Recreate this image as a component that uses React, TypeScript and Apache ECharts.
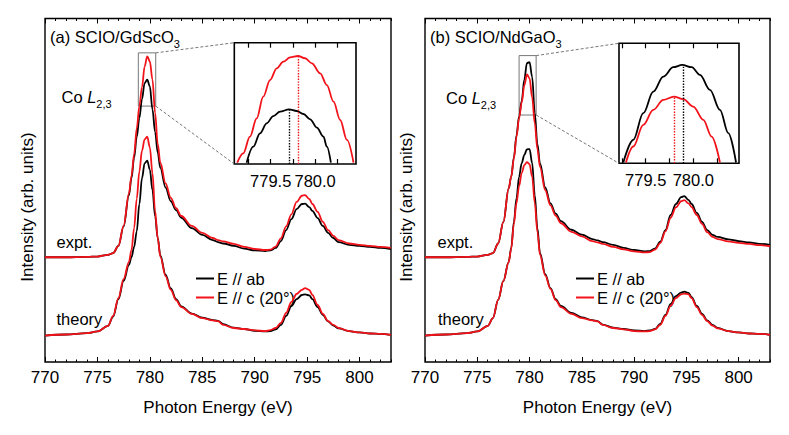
import React, { useEffect, useRef } from "react";
import * as echarts from "echarts";

const FONT = "Liberation Sans, Arial, Helvetica, sans-serif";

// Photon energy grid (eV) shared by the main spectra
const energy = [770, 772, 774, 775, 776, 776.5, 777, 777.5, 778, 778.25, 778.5, 778.75, 779, 779.25, 779.5, 779.75, 780, 780.25, 780.5, 780.75, 781, 781.5, 782, 782.5, 783, 784, 785, 786, 786.5, 787, 788, 789, 790, 791, 791.5, 792, 792.5, 793, 793.5, 794, 794.5, 794.8, 795.2, 795.5, 796, 796.5, 797, 797.5, 798, 799, 800, 801, 802, 803];

// Panel (a) SCIO/GdScO3
const exptAbA = [3.05, 3.05, 3.06, 3.07, 3.12, 3.17, 3.38, 3.95, 4.85, 5.35, 5.95, 6.55, 7.1, 7.65, 8.12, 8.22, 8.02, 7.35, 6.7, 6.1, 5.65, 5.08, 4.68, 4.42, 4.2, 3.9, 3.7, 3.55, 3.49, 3.45, 3.38, 3.3, 3.25, 3.23, 3.25, 3.32, 3.52, 3.84, 4.16, 4.45, 4.6, 4.61, 4.51, 4.4, 4.19, 3.96, 3.76, 3.61, 3.49, 3.41, 3.38, 3.35, 3.32, 3.29];
const exptCA = [3.05, 3.05, 3.06, 3.07, 3.12, 3.17, 3.38, 3.97, 4.9, 5.42, 6.05, 6.8, 7.45, 8.0, 8.6, 8.9, 8.75, 8.22, 7.25, 6.35, 5.8, 5.2, 4.78, 4.48, 4.25, 3.96, 3.76, 3.61, 3.55, 3.51, 3.44, 3.35, 3.29, 3.26, 3.27, 3.36, 3.6, 3.95, 4.3, 4.66, 4.84, 4.86, 4.75, 4.6, 4.37, 4.08, 3.84, 3.67, 3.55, 3.45, 3.41, 3.38, 3.35, 3.32];
const theoAbA = [0.77, 0.8, 0.84, 0.89, 1.05, 1.32, 1.83, 2.36, 2.82, 3.05, 3.35, 3.8, 4.6, 5.35, 5.78, 5.86, 5.6, 5.0, 4.25, 3.62, 3.1, 2.54, 2.14, 1.83, 1.62, 1.41, 1.29, 1.22, 1.2, 1.1, 1.0, 0.96, 0.91, 0.89, 0.9, 0.95, 1.08, 1.34, 1.63, 1.83, 1.95, 1.97, 1.94, 1.83, 1.6, 1.37, 1.18, 1.06, 0.98, 0.9, 0.86, 0.83, 0.82, 0.79];
const theoCA = [0.77, 0.8, 0.84, 0.89, 1.05, 1.34, 1.86, 2.42, 2.91, 3.26, 3.9, 4.75, 5.55, 6.15, 6.48, 6.56, 6.25, 5.5, 4.4, 3.6, 3.07, 2.5, 2.1, 1.8, 1.6, 1.4, 1.28, 1.21, 1.19, 1.08, 0.99, 0.96, 0.92, 0.9, 0.93, 0.99, 1.14, 1.43, 1.75, 1.98, 2.1, 2.15, 2.1, 1.95, 1.66, 1.4, 1.19, 1.08, 0.99, 0.9, 0.86, 0.83, 0.82, 0.79];

// Panel (b) SCIO/NdGaO3
const exptAbB = [3.05, 3.05, 3.06, 3.07, 3.12, 3.17, 3.45, 4.08, 5.05, 5.4, 5.95, 6.6, 7.15, 7.6, 8.22, 8.7, 8.73, 8.3, 7.25, 6.35, 5.78, 5.08, 4.62, 4.32, 4.1, 3.85, 3.71, 3.58, 3.54, 3.49, 3.41, 3.32, 3.26, 3.22, 3.23, 3.3, 3.5, 3.84, 4.28, 4.6, 4.8, 4.83, 4.72, 4.6, 4.34, 4.08, 3.84, 3.7, 3.64, 3.57, 3.52, 3.48, 3.44, 3.41];
const exptCB = [3.05, 3.05, 3.06, 3.07, 3.12, 3.17, 3.45, 4.08, 5.05, 5.4, 5.92, 6.55, 7.1, 7.55, 8.05, 8.37, 8.26, 7.7, 6.95, 6.2, 5.68, 5.0, 4.56, 4.26, 4.04, 3.79, 3.66, 3.52, 3.48, 3.44, 3.35, 3.28, 3.22, 3.19, 3.2, 3.27, 3.46, 3.8, 4.2, 4.5, 4.68, 4.71, 4.62, 4.51, 4.28, 4.02, 3.78, 3.64, 3.58, 3.51, 3.47, 3.44, 3.4, 3.37];
const theoAbB = [0.77, 0.8, 0.84, 0.89, 1.05, 1.28, 1.81, 2.36, 2.91, 3.32, 4.08, 4.77, 5.39, 5.79, 6.03, 6.19, 6.2, 5.79, 4.86, 3.9, 3.17, 2.56, 2.15, 1.83, 1.63, 1.43, 1.3, 1.22, 1.19, 1.09, 1.0, 0.96, 0.92, 0.9, 0.92, 0.96, 1.11, 1.37, 1.69, 1.92, 2.02, 2.05, 2.01, 1.89, 1.63, 1.4, 1.21, 1.08, 0.99, 0.9, 0.86, 0.83, 0.82, 0.79];
const theoCB = [0.77, 0.8, 0.84, 0.89, 1.05, 1.28, 1.81, 2.36, 2.9, 3.3, 4.02, 4.63, 5.12, 5.5, 5.73, 5.82, 5.76, 5.39, 4.63, 3.78, 3.12, 2.52, 2.13, 1.8, 1.6, 1.4, 1.28, 1.21, 1.18, 1.08, 0.99, 0.95, 0.9, 0.89, 0.9, 0.95, 1.08, 1.34, 1.64, 1.86, 1.97, 1.99, 1.97, 1.86, 1.6, 1.37, 1.19, 1.06, 0.98, 0.9, 0.86, 0.83, 0.82, 0.79];

// Insets: zoom on the L3 peak maximum
const insetEnergyAbA = [779.229, 779.304, 779.379, 779.455, 779.529, 779.605, 779.707, 779.793, 779.868, 779.944, 780.019, 780.094, 780.132, 780.177];
const insetAbA = [7.547, 7.751, 7.922, 8.05, 8.143, 8.198, 8.229, 8.207, 8.169, 8.101, 7.996, 7.879, 7.751, 7.547];
const insetEnergyCA = [779.123, 779.191, 779.266, 779.342, 779.416, 779.492, 779.568, 779.642, 779.718, 779.808, 779.887, 779.963, 780.056, 780.132, 780.207, 780.282, 780.358, 780.432];
const insetCA = [7.547, 7.667, 7.879, 8.114, 8.39, 8.603, 8.753, 8.837, 8.893, 8.91, 8.881, 8.817, 8.689, 8.539, 8.326, 8.092, 7.837, 7.547];
const insetEnergyAbB = [779.265, 779.37, 779.475, 779.58, 779.685, 779.79, 779.884, 779.983, 780.07, 780.175, 780.28, 780.368, 780.449];
const insetAbB = [7.57, 7.85, 8.178, 8.444, 8.629, 8.745, 8.773, 8.745, 8.65, 8.465, 8.219, 7.932, 7.57];
const insetEnergyCB = [779.293, 779.37, 779.475, 779.58, 779.685, 779.797, 779.895, 780.0, 780.105, 780.193, 780.28];
const insetCB = [7.57, 7.767, 8.034, 8.219, 8.342, 8.383, 8.351, 8.26, 8.096, 7.89, 7.57];

// Peak positions marked in insets [energy, peak intensity]
const peakAbA = [779.71, 8.229];
const peakCA = [779.81, 8.91];
const peakAbB = [779.89, 8.773];
const peakCB = [779.8, 8.383];

// Ranges
const mainX = [770, 803];
const mainY = [0, 10];
const insetXA = [779.09, 780.46];
const insetYA = [7.53, 9.08];
const insetXB = [779.22, 780.48];
const insetYB = [7.56, 9.04];
const boxA = [[778.9, 7.45], [780.56, 9.0]];
const boxB = [[779.0, 7.19], [780.63, 8.92]];

const majorTicks = [770, 775, 780, 785, 790, 795, 800];
const minorTicks = Array.from({ length: 34 }, (_, i) => 770 + i);
const insetTicks = [779.25, 779.5, 779.75, 780.0, 780.25];
const insetLabels = [779.5, 780.0];

const BLACK = "#000000";
const RED = "#f2131a";
const NAME_AB = "E // ab";
const NAME_C = "E // c (20°)";

const zip = (xs: number[], ys: number[]) => xs.map((x, i) => [x, ys[i]]);

function mainXAxes(grid: number) {
  const base = {
    gridIndex: grid,
    type: "value" as const,
    min: mainX[0],
    max: mainX[1],
    axisLine: { show: false },
    splitLine: { show: false },
  };
  return [
    {
      ...base,
      position: "bottom",
      axisTick: { customValues: majorTicks, inside: true, length: 5, lineStyle: { color: "#000", width: 1 } },
      axisLabel: { customValues: majorTicks, fontSize: 17, color: "#000", margin: 7, fontFamily: FONT },
      name: "Photon Energy (eV)",
      nameLocation: "middle",
      nameGap: 37,
      nameTextStyle: { fontSize: 17, color: "#000", fontFamily: FONT },
    },
    {
      ...base,
      position: "bottom",
      axisTick: { customValues: minorTicks, inside: true, length: 2.5, lineStyle: { color: "#000", width: 1 } },
      axisLabel: { show: false },
    },
    {
      ...base,
      position: "top",
      axisTick: { customValues: majorTicks, inside: true, length: 5, lineStyle: { color: "#000", width: 1 } },
      axisLabel: { show: false },
    },
    {
      ...base,
      position: "top",
      axisTick: { customValues: minorTicks, inside: true, length: 2.5, lineStyle: { color: "#000", width: 1 } },
      axisLabel: { show: false },
    },
  ];
}

function insetXAxes(grid: number, range: number[]) {
  const base = {
    gridIndex: grid,
    type: "value" as const,
    min: range[0],
    max: range[1],
    axisLine: { show: false },
    splitLine: { show: false },
  };
  return [
    {
      ...base,
      position: "bottom",
      axisTick: { customValues: insetTicks, inside: true, length: 5, lineStyle: { color: "#000", width: 1.2 } },
      axisLabel: {
        customValues: insetLabels,
        fontSize: 16.5,
        color: "#000",
        margin: 8,
        fontFamily: FONT,
        formatter: (v: number) => v.toFixed(1),
      },
    },
    {
      ...base,
      position: "top",
      axisTick: { customValues: insetTicks, inside: true, length: 5, lineStyle: { color: "#000", width: 1.2 } },
      axisLabel: { show: false },
    },
  ];
}

function yAxis(grid: number, range: number[]) {
  return {
    gridIndex: grid,
    type: "value" as const,
    min: range[0],
    max: range[1],
    axisLine: { show: false },
    axisTick: { show: false },
    axisLabel: { show: false },
    splitLine: { show: false },
  };
}

function line(name: string, color: string, data: number[][], xi: number, yi: number, extra: any = {}) {
  return {
    type: "line",
    name,
    xAxisIndex: xi,
    yAxisIndex: yi,
    data,
    symbol: "none",
    smooth: 0.35,
    smoothMonotone: "x",
    color,
    lineStyle: { color, width: 1.8 },
    z: color === RED ? 4 : 3,
    ...extra,
  };
}

function peakLine(peak: number[], yMin: number, color: string) {
  return {
    silent: true,
    symbol: ["none", "none"],
    label: { show: false },
    lineStyle: { type: "dotted", color, width: 1.4 },
    data: [[{ coord: [peak[0], yMin] }, { coord: [peak[0], peak[1]] }]],
  };
}

function boxArea(box: number[][]) {
  return {
    silent: true,
    itemStyle: { color: "rgba(0,0,0,0)", borderColor: "#777", borderWidth: 1 },
    data: [[{ coord: box[0] }, { coord: box[1] }]],
  };
}

function legend(left: number) {
  return {
    left,
    top: 265,
    orient: "vertical",
    selectedMode: false,
    data: [NAME_AB, NAME_C],
    icon: "rect",
    itemWidth: 18,
    itemHeight: 2,
    itemGap: 2,
    textStyle: { fontSize: 16.5, color: "#000", fontFamily: FONT, padding: [0, 0, 0, -2] },
  };
}

function label(text: string, x: number, y: number, extra: any = {}) {
  return {
    type: "text",
    x,
    y,
    z: 10,
    style: {
      text,
      fill: "#000",
      fontSize: 16.5,
      fontFamily: FONT,
      align: "left",
      verticalAlign: "middle",
      lineHeight: 24,
      rich: {
        sub: { fontSize: 11, lineHeight: 11, verticalAlign: "bottom", fontFamily: FONT, fill: "#000" },
        it: { fontSize: 16.5, fontStyle: "italic", lineHeight: 24, fontFamily: FONT, fill: "#000" },
      },
      ...extra,
    },
  };
}

export default function App() {
  const ref = useRef<HTMLDivElement>(null);

  useEffect(() => {
    if (!ref.current) return;
    const chart = echarts.init(ref.current, null, { renderer: "svg" });

    const option: any = {
      animation: false,
      backgroundColor: "#ffffff",
      textStyle: { fontFamily: FONT },
      grid: [
        { left: 45, top: 18.5, width: 346, height: 343.5, show: true, borderColor: "#000", borderWidth: 1.4, backgroundColor: "transparent" },
        { left: 234.3, top: 42.7, width: 121.7, height: 121.3, show: true, borderColor: "#000", borderWidth: 1.6, backgroundColor: "#fff" },
        { left: 425, top: 18.5, width: 345, height: 343.5, show: true, borderColor: "#000", borderWidth: 1.4, backgroundColor: "transparent" },
        { left: 619, top: 43.3, width: 120, height: 120, show: true, borderColor: "#000", borderWidth: 1.6, backgroundColor: "#fff" },
      ],
      xAxis: [
        ...mainXAxes(0), // 0-3
        ...insetXAxes(1, insetXA), // 4-5
        ...mainXAxes(2), // 6-9
        ...insetXAxes(3, insetXB), // 10-11
      ],
      yAxis: [yAxis(0, mainY), yAxis(1, insetYA), yAxis(2, mainY), yAxis(3, insetYB)],
      legend: [legend(191), legend(571)],
      series: [
        // panel a main
        line(NAME_AB, BLACK, zip(energy, exptAbA), 0, 0, { markArea: boxArea(boxA) }),
        line(NAME_AB, BLACK, zip(energy, theoAbA), 0, 0),
        line(NAME_C, RED, zip(energy, exptCA), 0, 0),
        line(NAME_C, RED, zip(energy, theoCA), 0, 0),
        // panel a inset
        line(NAME_AB, BLACK, zip(insetEnergyAbA, insetAbA), 4, 1, { markLine: peakLine(peakAbA, insetYA[0], BLACK) }),
        line(NAME_C, RED, zip(insetEnergyCA, insetCA), 4, 1, { markLine: peakLine(peakCA, insetYA[0], RED) }),
        // panel b main
        line(NAME_AB, BLACK, zip(energy, exptAbB), 6, 2, { markArea: boxArea(boxB) }),
        line(NAME_AB, BLACK, zip(energy, theoAbB), 6, 2),
        line(NAME_C, RED, zip(energy, exptCB), 6, 2),
        line(NAME_C, RED, zip(energy, theoCB), 6, 2),
        // panel b inset
        line(NAME_AB, BLACK, zip(insetEnergyAbB, insetAbB), 10, 3, { markLine: peakLine(peakAbB, insetYB[0], BLACK) }),
        line(NAME_C, RED, zip(insetEnergyCB, insetCB), 10, 3, { markLine: peakLine(peakCB, insetYB[0], RED) }),
      ],
    };
    chart.setOption(option);

    const px = (xi: number, yi: number, pt: number[]) =>
      chart.convertToPixel({ xAxisIndex: xi, yAxisIndex: yi }, pt) as number[];

    const connectors: any[] = [];
    const addConnectors = (mx: number, my: number, ix: number, iy: number, box: number[][], ixr: number[], iyr: number[]) => {
      const bTop = px(mx, my, [box[1][0], box[1][1]]);
      const bBot = px(mx, my, [box[1][0], box[0][1]]);
      const iTop = px(ix, iy, [ixr[0], iyr[1]]);
      const iBot = px(ix, iy, [ixr[0], iyr[0]]);
      [[bTop, iTop], [bBot, iBot]].forEach(([a, b]) => {
        connectors.push({
          type: "line",
          z: 5,
          shape: { x1: a[0], y1: a[1], x2: b[0], y2: b[1] },
          style: { stroke: "#777", lineWidth: 1, lineDash: [3, 2] },
        });
      });
    };
    addConnectors(0, 0, 4, 1, boxA, insetXA, insetYA);
    addConnectors(6, 2, 10, 3, boxB, insetXB, insetYB);

    const ylabel = (x: number) => ({
      type: "text",
      x,
      y: 207,
      rotation: Math.PI / 2,
      style: { text: "Intensity (arb. units)", fill: "#000", fontSize: 17, fontFamily: FONT, align: "center", verticalAlign: "middle" },
    });

    const texts = [
      label("(a) SCIO/GdScO{sub|3}", 50, 37),
      label("(b) SCIO/NdGaO{sub|3}", 430, 37),
      label("Co {it|L}{sub|2,3}", 61.5, 97),
      label("Co {it|L}{sub|2,3}", 446, 98),
      label("expt.", 56.5, 242),
      label("expt.", 437.5, 242),
      label("theory", 56.5, 319),
      label("theory", 438, 319),
      ylabel(27.5),
      ylabel(406),
    ];

    chart.setOption({ graphic: [...connectors, ...texts] });

    return () => chart.dispose();
  }, []);

  return <div ref={ref} style={{ position: "absolute", left: 0, top: 0, width: 789, height: 435 }} />;
}
